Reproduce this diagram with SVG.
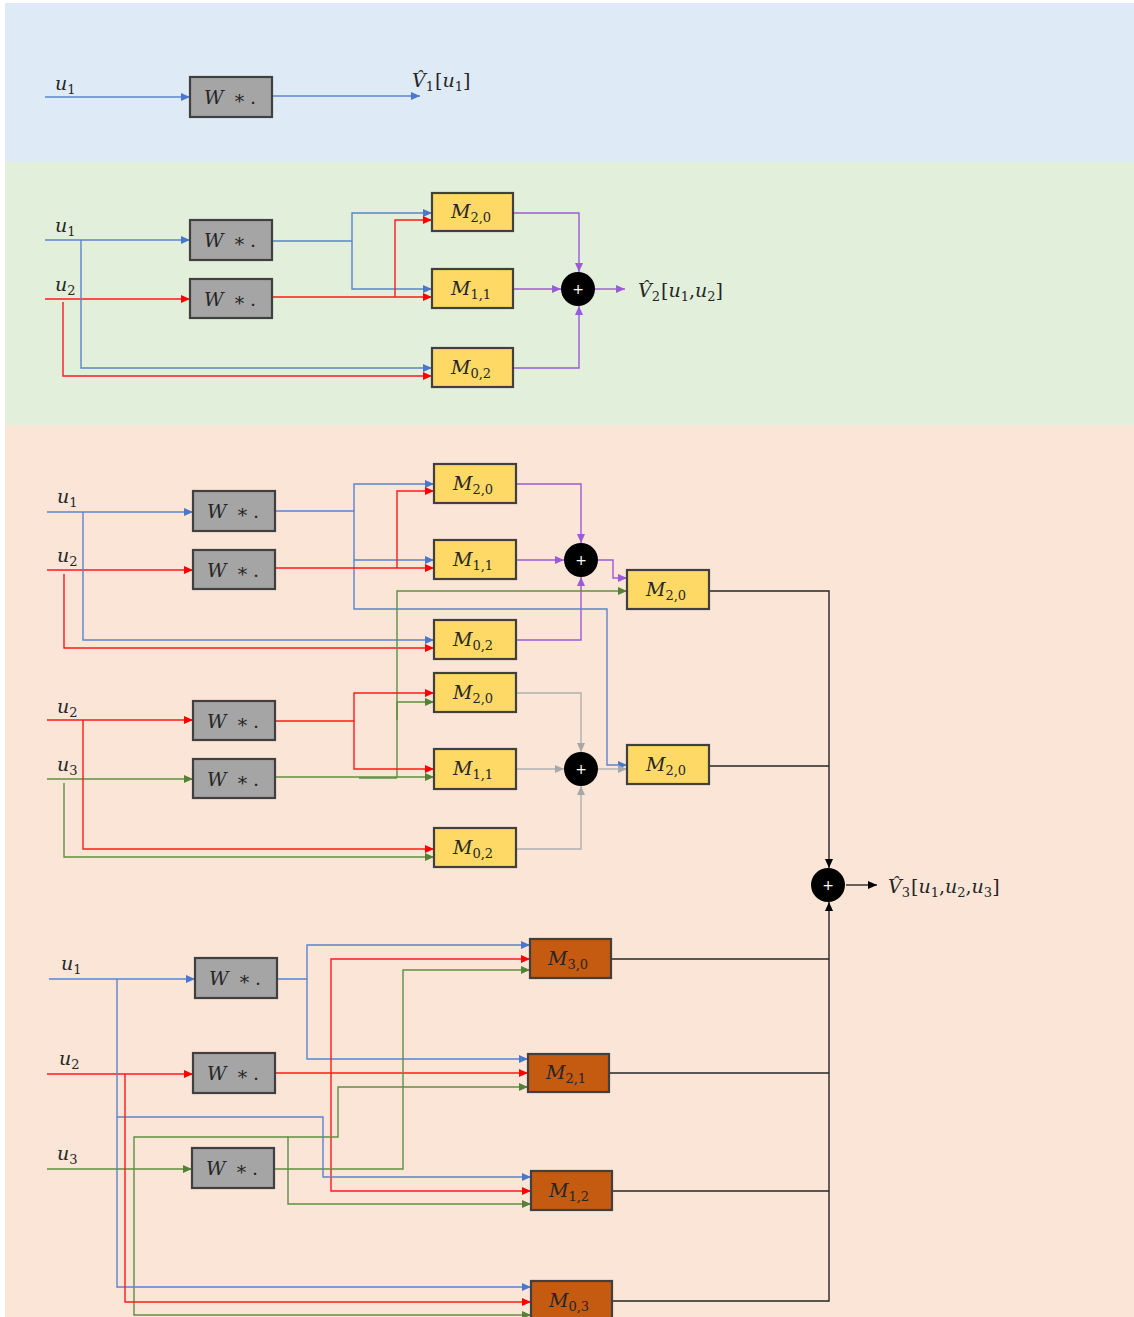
<svg xmlns="http://www.w3.org/2000/svg" width="1134" height="1317" viewBox="0 0 1134 1317">
<style>
.w{fill:#a5a5a5;stroke:#404040;stroke-width:2.2}
.m{fill:#ffd966;stroke:#404040;stroke-width:2.2}
.o{fill:#c55a11;stroke:#404040;stroke-width:2.2}
.t{font-family:"DejaVu Serif","Liberation Serif",serif;font-style:italic;font-size:19px;fill:#262626}
.s{font-size:13px;font-style:normal}
.n{font-style:normal}
.tw{font-family:"DejaVu Serif","Liberation Serif",serif;font-size:19px;fill:#262626}
.c{fill:none;stroke-width:1.4}
.b{stroke:#5b84d0}
.r{stroke:#ff1a1a}
.g{stroke:#5f8f42}
.p{stroke:#9a5bd8}
.y{stroke:#b0b0b0}
.k{stroke:#262626}
.sum{fill:#000}
.pl{fill:#fff;font-family:"DejaVu Sans",sans-serif;font-size:14px}
</style>
<defs>
<marker id="ab" markerWidth="10" markerHeight="10" refX="9" refY="5" orient="auto" markerUnits="userSpaceOnUse"><path d="M0,1 L9,5 L0,9 z" fill="#4a77cc"/></marker>
<marker id="ar" markerWidth="10" markerHeight="10" refX="9" refY="5" orient="auto" markerUnits="userSpaceOnUse"><path d="M0,1 L9,5 L0,9 z" fill="#ff0000"/></marker>
<marker id="ag" markerWidth="10" markerHeight="10" refX="9" refY="5" orient="auto" markerUnits="userSpaceOnUse"><path d="M0,1 L9,5 L0,9 z" fill="#548235"/></marker>
<marker id="ap" markerWidth="10" markerHeight="10" refX="9" refY="5" orient="auto" markerUnits="userSpaceOnUse"><path d="M0,1 L9,5 L0,9 z" fill="#9a5bd8"/></marker>
<marker id="ay" markerWidth="10" markerHeight="10" refX="9" refY="5" orient="auto" markerUnits="userSpaceOnUse"><path d="M0,1 L9,5 L0,9 z" fill="#a8a8a8"/></marker>
<marker id="ak" markerWidth="10" markerHeight="10" refX="9" refY="5" orient="auto" markerUnits="userSpaceOnUse"><path d="M0,1 L9,5 L0,9 z" fill="#000"/></marker>
</defs>
<rect x="0" y="0" width="1134" height="1317" fill="#fff"/>
<rect x="5" y="3" width="1129" height="159" fill="#deeaf6"/>
<rect x="5" y="162" width="1129" height="263" fill="#e2efda"/>
<rect x="5" y="425" width="1129" height="892" fill="#fbe5d6"/>

<g id="connectors">
<path class="c b" d="M45,97 H190" marker-end="url(#ab)"/>
<path class="c b" d="M272,96 H420" marker-end="url(#ab)"/>
<path class="c b" d="M45,240 H190" marker-end="url(#ab)"/>
<path class="c r" d="M45,299 H190" marker-end="url(#ar)"/>
<path class="c b" d="M272,241 H352 V213 H432" marker-end="url(#ab)"/>
<path class="c b" d="M352,241 V289 H432" marker-end="url(#ab)"/>
<path class="c r" d="M272,297 H432" marker-end="url(#ar)"/>
<path class="c r" d="M395,297 V220 H432" marker-end="url(#ar)"/>
<path class="c b" d="M81,240 V368 H432" marker-end="url(#ab)"/>
<path class="c r" d="M63,302 V376 H432" marker-end="url(#ar)"/>
<path class="c p" d="M513,213 H579 V272" marker-end="url(#ap)"/>
<path class="c p" d="M513,289 H561" marker-end="url(#ap)"/>
<path class="c p" d="M513,368 H579 V306" marker-end="url(#ap)"/>
<path class="c p" d="M595,289 H625" marker-end="url(#ap)"/>
<path class="c b" d="M47,512 H193" marker-end="url(#ab)"/>
<path class="c r" d="M47,570 H193" marker-end="url(#ar)"/>
<path class="c b" d="M275,511 H354 V484 H434" marker-end="url(#ab)"/>
<path class="c b" d="M354,511 V560 H434" marker-end="url(#ab)"/>
<path class="c b" d="M354,560 V609 H607 V765 H627" marker-end="url(#ab)"/>
<path class="c r" d="M275,568 H434" marker-end="url(#ar)"/>
<path class="c r" d="M397,568 V491 H434" marker-end="url(#ar)"/>
<path class="c b" d="M83,512 V640 H434" marker-end="url(#ab)"/>
<path class="c r" d="M64,574 V648 H434" marker-end="url(#ar)"/>
<path class="c p" d="M516,484 H581 V543" marker-end="url(#ap)"/>
<path class="c p" d="M516,560 H564" marker-end="url(#ap)"/>
<path class="c p" d="M516,640 H581 V577" marker-end="url(#ap)"/>
<path class="c p" d="M598,560 H613 V578 H627" marker-end="url(#ap)"/>
<path class="c g" d="M397,777 V591 H627" marker-end="url(#ag)"/>
<path class="c r" d="M47,720 H193" marker-end="url(#ar)"/>
<path class="c g" d="M47,779 H193" marker-end="url(#ag)"/>
<path class="c r" d="M275,721 H354 V693 H434" marker-end="url(#ar)"/>
<path class="c r" d="M354,721 V769 H434" marker-end="url(#ar)"/>
<path class="c g" d="M275,777 H434" marker-end="url(#ag)"/>
<path class="c g" d="M359,778 H397" stroke-width="2.6"/>
<path class="c g" d="M397,720 V702 H434" marker-end="url(#ag)"/>
<path class="c r" d="M83,720 V849 H434" marker-end="url(#ar)"/>
<path class="c g" d="M64,783 V857 H434" marker-end="url(#ag)"/>
<path class="c y" d="M516,693 H581 V752" marker-end="url(#ay)"/>
<path class="c y" d="M516,769 H564" marker-end="url(#ay)"/>
<path class="c y" d="M516,849 H581 V786" marker-end="url(#ay)"/>
<path class="c y" d="M598,769 H627" marker-end="url(#ay)"/>
<path class="c k" d="M709,591 H829 V868" marker-end="url(#ak)"/>
<path class="c k" d="M709,766 H829"/>
<path class="c k" d="M846,885 H877" marker-end="url(#ak)"/>
<path class="c b" d="M49,979 H195" marker-end="url(#ab)"/>
<path class="c r" d="M47,1074 H193" marker-end="url(#ar)"/>
<path class="c g" d="M47,1169 H192" marker-end="url(#ag)"/>
<path class="c b" d="M277,979 H307 V945 H530" marker-end="url(#ab)"/>
<path class="c b" d="M307,979 V1059 H528" marker-end="url(#ab)"/>
<path class="c r" d="M275,1073 H528" marker-end="url(#ar)"/>
<path class="c r" d="M331,1073 V959 H530" marker-end="url(#ar)"/>
<path class="c r" d="M331,1073 V1191 H531" marker-end="url(#ar)"/>
<path class="c g" d="M274,1169 H403 V970 H530" marker-end="url(#ag)"/>
<path class="c g" d="M288,1169 V1137 H338 V1087 H528" marker-end="url(#ag)"/>
<path class="c g" d="M288,1169 V1204 H531" marker-end="url(#ag)"/>
<path class="c g" d="M288,1137 H134 V1315 H531" marker-end="url(#ag)"/>
<path class="c b" d="M117,979 V1287 H531" marker-end="url(#ab)"/>
<path class="c b" d="M117,1117 H323 V1177 H531" marker-end="url(#ab)"/>
<path class="c r" d="M125,1074 V1302 H531" marker-end="url(#ar)"/>
<path class="c k" d="M611,959 H829"/>
<path class="c k" d="M609,1073 H829"/>
<path class="c k" d="M612,1191 H829"/>
<path class="c k" d="M612,1301 H829 V902" marker-end="url(#ak)"/>
</g>

<g id="labels">
<text class="t" x="55" y="90">u<tspan class="s" dy="4">1</tspan></text>
<text class="t" x="412" y="87">V&#770;<tspan class="s" dy="4">1</tspan><tspan class="n" dy="-4" dx="1">[</tspan>u<tspan class="s" dy="4">1</tspan><tspan class="n" dy="-4">]</tspan></text>
<text class="t" x="55" y="232">u<tspan class="s" dy="4">1</tspan></text>
<text class="t" x="55" y="291">u<tspan class="s" dy="4">2</tspan></text>
<text class="t" x="638" y="297">V&#770;<tspan class="s" dy="4">2</tspan><tspan class="n" dy="-4" dx="1">[</tspan>u<tspan class="s" dy="4">1</tspan><tspan class="n" dy="-4">,</tspan>u<tspan class="s" dy="4">2</tspan><tspan class="n" dy="-4">]</tspan></text>
<text class="t" x="57" y="503">u<tspan class="s" dy="4">1</tspan></text>
<text class="t" x="57" y="562">u<tspan class="s" dy="4">2</tspan></text>
<text class="t" x="57" y="713">u<tspan class="s" dy="4">2</tspan></text>
<text class="t" x="57" y="771">u<tspan class="s" dy="4">3</tspan></text>
<text class="t" x="888" y="893">V&#770;<tspan class="s" dy="4">3</tspan><tspan class="n" dy="-4" dx="1">[</tspan>u<tspan class="s" dy="4">1</tspan><tspan class="n" dy="-4">,</tspan>u<tspan class="s" dy="4">2</tspan><tspan class="n" dy="-4">,</tspan>u<tspan class="s" dy="4">3</tspan><tspan class="n" dy="-4">]</tspan></text>
<text class="t" x="61" y="970">u<tspan class="s" dy="4">1</tspan></text>
<text class="t" x="59" y="1065">u<tspan class="s" dy="4">2</tspan></text>
<text class="t" x="57" y="1160">u<tspan class="s" dy="4">3</tspan></text>
</g>

<g id="w1"><rect class="w" x="190" y="77" width="82" height="40"/><text class="tw" y="104"><tspan x="204" font-style="italic">W</tspan><tspan x="233">∗</tspan><tspan x="250">.</tspan></text></g>
<g id="w2"><rect class="w" x="190" y="220" width="82" height="40"/><text class="tw" y="247"><tspan x="204" font-style="italic">W</tspan><tspan x="233">∗</tspan><tspan x="250">.</tspan></text></g>
<g id="w3"><rect class="w" x="190" y="279" width="82" height="39"/><text class="tw" y="306"><tspan x="204" font-style="italic">W</tspan><tspan x="233">∗</tspan><tspan x="250">.</tspan></text></g>
<g id="m1"><rect class="m" x="432" y="193" width="81" height="38"/><text class="t" x="451" y="218">M<tspan class="s" dy="4">2,0</tspan></text></g>
<g id="m2"><rect class="m" x="432" y="269" width="81" height="39"/><text class="t" x="451" y="295">M<tspan class="s" dy="4">1,1</tspan></text></g>
<g id="m3"><rect class="m" x="432" y="348" width="81" height="39"/><text class="t" x="451" y="374">M<tspan class="s" dy="4">0,2</tspan></text></g>
<g id="s1"><circle class="sum" cx="578" cy="289" r="17"/><text class="pl" x="578" y="294" text-anchor="middle">+</text></g>

<g id="w4"><rect class="w" x="193" y="491" width="82" height="40"/><text class="tw" y="518"><tspan x="207" font-style="italic">W</tspan><tspan x="236">∗</tspan><tspan x="253">.</tspan></text></g>
<g id="w5"><rect class="w" x="193" y="550" width="82" height="39"/><text class="tw" y="577"><tspan x="207" font-style="italic">W</tspan><tspan x="236">∗</tspan><tspan x="253">.</tspan></text></g>
<g id="m4"><rect class="m" x="434" y="464" width="82" height="39"/><text class="t" x="453" y="490">M<tspan class="s" dy="4">2,0</tspan></text></g>
<g id="m5"><rect class="m" x="434" y="540" width="82" height="39"/><text class="t" x="453" y="566">M<tspan class="s" dy="4">1,1</tspan></text></g>
<g id="m6"><rect class="m" x="434" y="620" width="82" height="39"/><text class="t" x="453" y="646">M<tspan class="s" dy="4">0,2</tspan></text></g>
<g id="s2"><circle class="sum" cx="581" cy="560" r="17"/><text class="pl" x="581" y="565" text-anchor="middle">+</text></g>
<g id="m7"><rect class="m" x="627" y="570" width="82" height="39"/><text class="t" x="646" y="596">M<tspan class="s" dy="4">2,0</tspan></text></g>

<g id="w6"><rect class="w" x="193" y="701" width="82" height="39"/><text class="tw" y="728"><tspan x="207" font-style="italic">W</tspan><tspan x="236">∗</tspan><tspan x="253">.</tspan></text></g>
<g id="w7"><rect class="w" x="193" y="759" width="82" height="39"/><text class="tw" y="786"><tspan x="207" font-style="italic">W</tspan><tspan x="236">∗</tspan><tspan x="253">.</tspan></text></g>
<g id="m8"><rect class="m" x="434" y="673" width="82" height="39"/><text class="t" x="453" y="699">M<tspan class="s" dy="4">2,0</tspan></text></g>
<g id="m9"><rect class="m" x="434" y="749" width="82" height="40"/><text class="t" x="453" y="775">M<tspan class="s" dy="4">1,1</tspan></text></g>
<g id="m10"><rect class="m" x="434" y="828" width="82" height="39"/><text class="t" x="453" y="854">M<tspan class="s" dy="4">0,2</tspan></text></g>
<g id="s3"><circle class="sum" cx="581" cy="769" r="17"/><text class="pl" x="581" y="774" text-anchor="middle">+</text></g>
<g id="m11"><rect class="m" x="627" y="745" width="82" height="39"/><text class="t" x="646" y="771">M<tspan class="s" dy="4">2,0</tspan></text></g>

<g id="s4"><circle class="sum" cx="828" cy="885" r="17"/><text class="pl" x="828" y="890" text-anchor="middle">+</text></g>

<g id="w8"><rect class="w" x="195" y="958" width="82" height="40"/><text class="tw" y="985"><tspan x="209" font-style="italic">W</tspan><tspan x="238">∗</tspan><tspan x="255">.</tspan></text></g>
<g id="w9"><rect class="w" x="193" y="1053" width="82" height="40"/><text class="tw" y="1080"><tspan x="207" font-style="italic">W</tspan><tspan x="236">∗</tspan><tspan x="253">.</tspan></text></g>
<g id="w10"><rect class="w" x="192" y="1148" width="82" height="40"/><text class="tw" y="1175"><tspan x="206" font-style="italic">W</tspan><tspan x="235">∗</tspan><tspan x="252">.</tspan></text></g>
<g id="m12"><rect class="o" x="530" y="939" width="81" height="39"/><text class="t" x="548" y="965">M<tspan class="s" dy="4">3,0</tspan></text></g>
<g id="m13"><rect class="o" x="528" y="1054" width="81" height="38"/><text class="t" x="546" y="1079">M<tspan class="s" dy="4">2,1</tspan></text></g>
<g id="m14"><rect class="o" x="531" y="1171" width="81" height="39"/><text class="t" x="549" y="1197">M<tspan class="s" dy="4">1,2</tspan></text></g>
<g id="m15"><rect class="o" x="531" y="1281" width="81" height="40"/><text class="t" x="549" y="1307">M<tspan class="s" dy="4">0,3</tspan></text></g>
</svg>
